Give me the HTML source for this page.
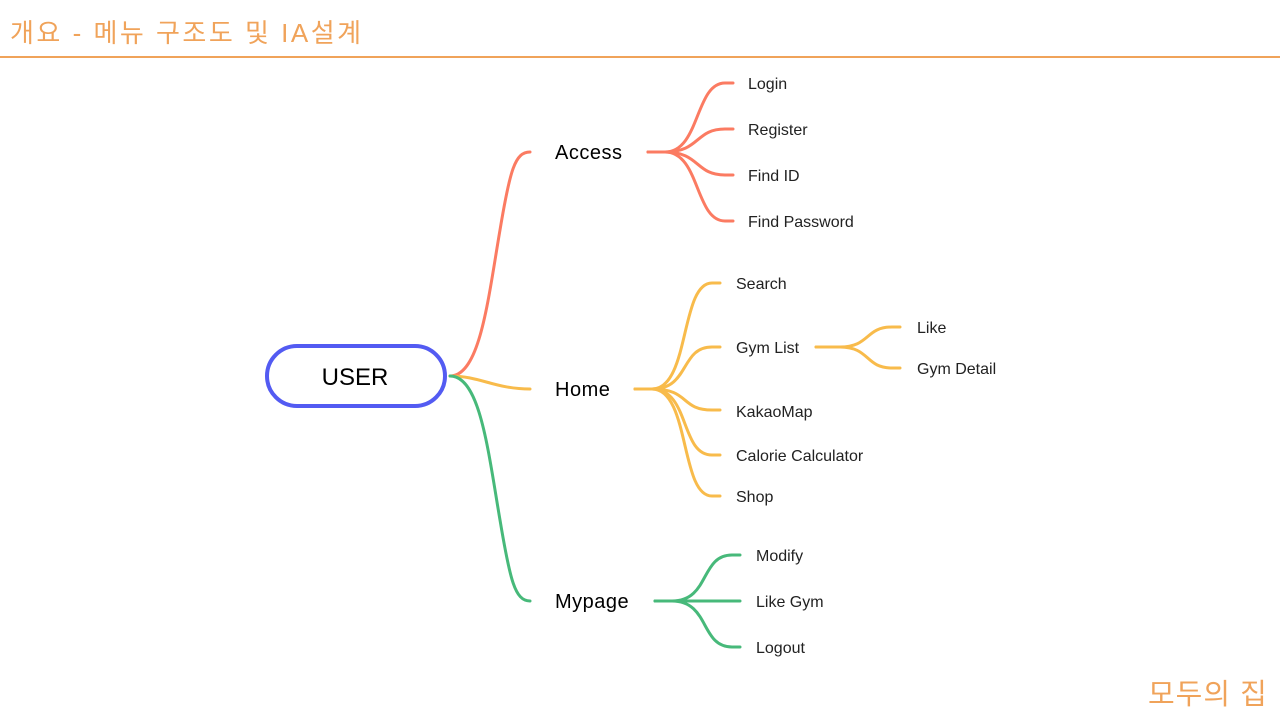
<!DOCTYPE html>
<html><head><meta charset="utf-8"><style>
html,body{margin:0;padding:0;background:#fff;width:1280px;height:720px;overflow:hidden}
svg{display:block}
text{font-family:"Liberation Sans","Noto Sans CJK KR",sans-serif}
</style></head><body>
<svg width="1280" height="720" viewBox="0 0 1280 720" xmlns="http://www.w3.org/2000/svg">
<text x="10" y="42" font-size="26" fill="#f0a35a" letter-spacing="2.5" font-family="'Liberation Sans','Noto Sans CJK KR',sans-serif">개요 - 메뉴 구조도 및 IA설계</text>
<line x1="0" y1="57" x2="1280" y2="57" stroke="#f0a35a" stroke-width="2"/>
<text x="1148" y="704" font-size="29" fill="#f0a35a" letter-spacing="1" font-family="'Liberation Sans','Noto Sans CJK KR',sans-serif">모두의 집</text>
<g fill="none" stroke-width="3" stroke-linecap="round">
<g stroke="#fb7b62">
<path d="M450,376 C480,376 488,300 500,230 C510,170 515,152 530,152"/>
<path d="M648,152 L665,152 C700,152 695,83 725,83 L733,83"/>
<path d="M648,152 L665,152 C700,152 695,129 725,129 L733,129"/>
<path d="M648,152 L665,152 C700,152 695,175 725,175 L733,175"/>
<path d="M648,152 L665,152 C700,152 695,221 725,221 L733,221"/>
</g>
<g stroke="#f8bb4b">
<path d="M450,376 C480,376 495,389 530,389"/>
<path d="M635,389 L652,389 C690,389 680,283 712,283 L720,283"/>
<path d="M635,389 L652,389 C690,389 680,347 712,347 L720,347"/>
<path d="M635,389 L652,389 C690,389 680,410 712,410 L720,410"/>
<path d="M635,389 L652,389 C690,389 680,455 712,455 L720,455"/>
<path d="M635,389 L652,389 C690,389 680,496 712,496 L720,496"/>
<path d="M816,347 L840,347 C870,347 865,327 892,327 L900,327"/>
<path d="M816,347 L840,347 C870,347 865,368 892,368 L900,368"/>
</g>
<g stroke="#47b97a">
<path d="M450,376 C480,376 488,450 500,520 C510,580 515,601 530,601"/>
<path d="M655,601 L672,601 C710,601 700,555 732,555 L740,555"/>
<path d="M655,601 L740,601"/>
<path d="M655,601 L672,601 C710,601 700,647 732,647 L740,647"/>
</g>
</g>
<rect x="267" y="346" width="178" height="60" rx="30" fill="#fff" stroke="#535bf2" stroke-width="4"/>
<text x="355" y="385" font-size="24" text-anchor="middle" fill="#000">USER</text>
<g font-size="20" fill="#000" font-weight="500">
<text x="555" y="159" letter-spacing="0.5">Access</text>
<text x="555" y="396" letter-spacing="0.5">Home</text>
<text x="555" y="608" letter-spacing="0.5">Mypage</text>
</g>
<g font-size="16" fill="#222">
<text x="748" y="89">Login</text>
<text x="748" y="135">Register</text>
<text x="748" y="181">Find ID</text>
<text x="748" y="227">Find Password</text>
<text x="736" y="289">Search</text>
<text x="736" y="353">Gym List</text>
<text x="736" y="417">KakaoMap</text>
<text x="736" y="461">Calorie Calculator</text>
<text x="736" y="502">Shop</text>
<text x="917" y="333">Like</text>
<text x="917" y="374">Gym Detail</text>
<text x="756" y="561">Modify</text>
<text x="756" y="607">Like Gym</text>
<text x="756" y="653">Logout</text>
</g>
</svg>
</body></html>
